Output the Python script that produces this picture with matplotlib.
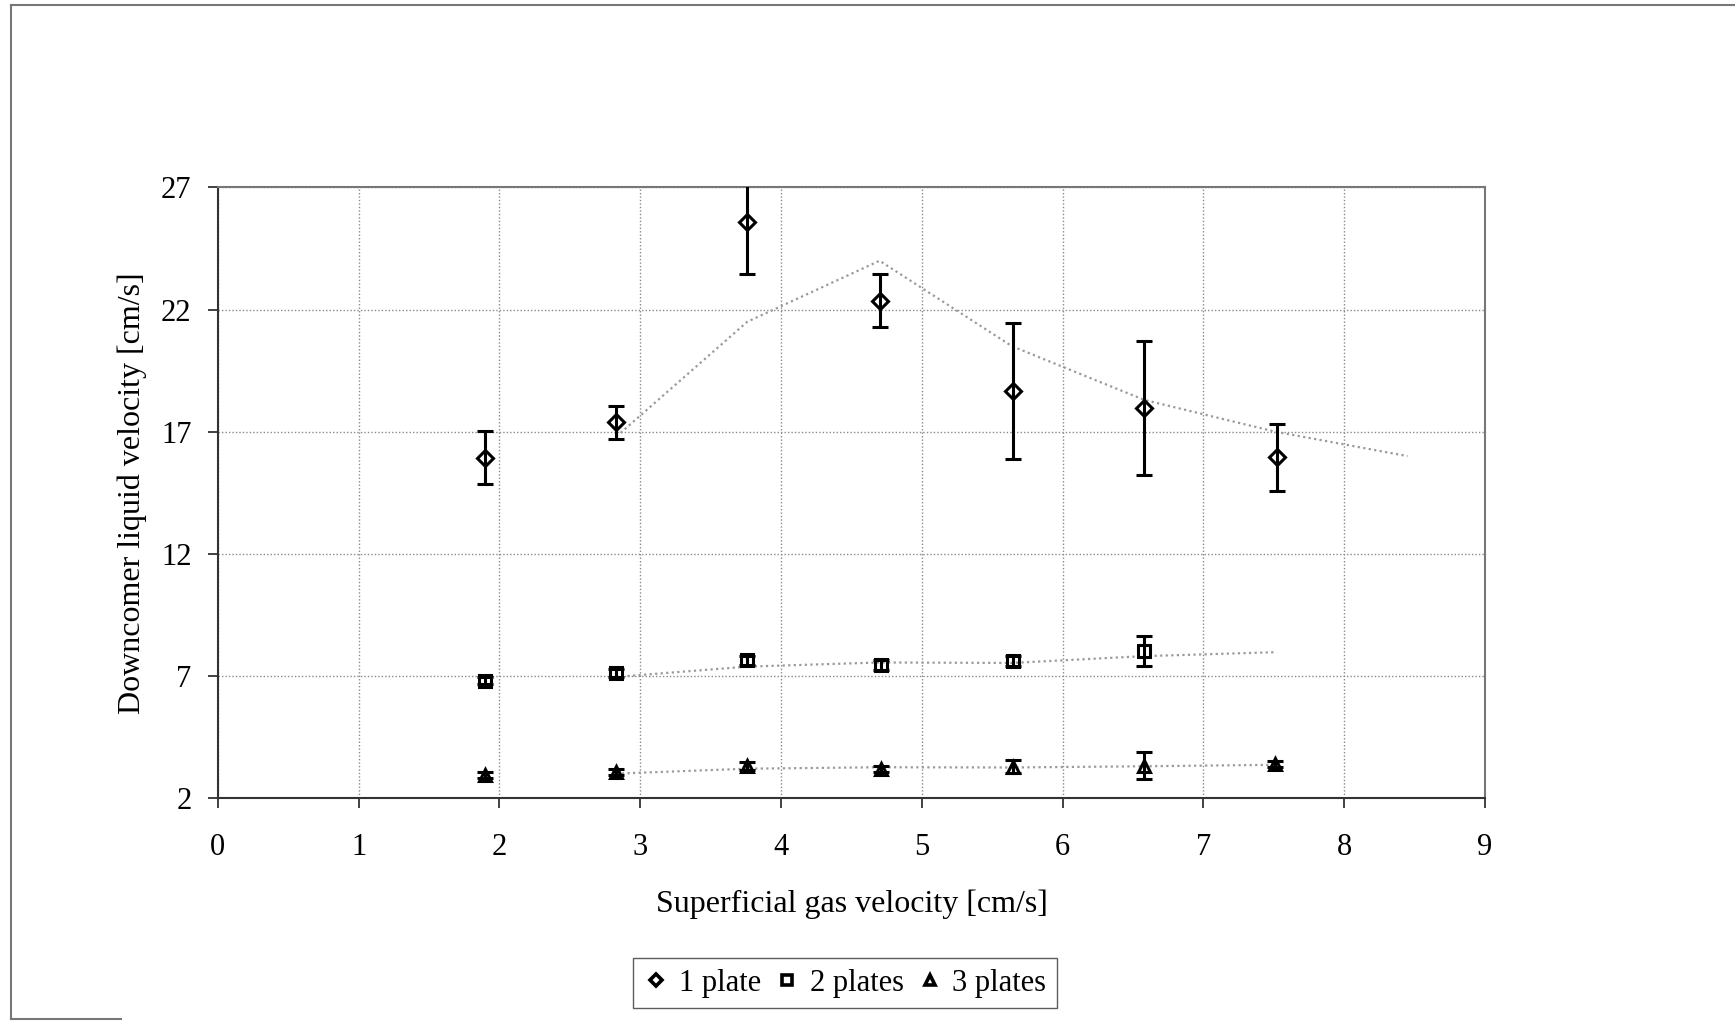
import matplotlib.pyplot as plt
from matplotlib.lines import Line2D

plt.rcParams['font.family'] = ['Liberation Serif', 'DejaVu Serif']

# measured points
X1 = [1.90, 2.83, 3.76, 4.70, 5.65, 6.58, 7.52]
Y1 = [15.94, 17.38, 25.58, 22.37, 18.65, 17.97, 15.96]
E1 = [1.08, 0.69, 2.13, 1.07, 2.78, 2.73, 1.37]

X2 = [1.90, 2.83, 3.76, 4.71, 5.65, 6.58]
Y2 = [6.80, 7.12, 7.64, 7.46, 7.61, 8.01]
E2 = [0.15, 0.15, 0.18, 0.2, 0.22, 0.62]

X3 = [1.90, 2.83, 3.76, 4.71, 5.65, 6.58, 7.51]
Y3 = [2.93, 3.08, 3.31, 3.20, 3.28, 3.33, 3.38]
E3 = [0.12, 0.12, 0.15, 0.12, 0.27, 0.55, 0.12]

# trend lines (gray dotted)
TX1 = [2.83, 3.76, 4.70, 5.64, 6.58, 7.51, 8.45]
TY1 = [16.8, 21.5, 24.0, 20.5, 18.3, 17.0, 16.0]
TX2 = [2.83, 3.76, 4.70, 5.64, 6.58, 7.51]
TY2 = [6.96, 7.38, 7.55, 7.53, 7.81, 7.97]
TX3 = [2.83, 3.76, 4.70, 5.64, 6.58, 7.51]
TY3 = [3.0, 3.2, 3.26, 3.25, 3.3, 3.36]

XTICKS = list(range(0, 10))
YTICKS = [2, 7, 12, 17, 22, 27]

fig = plt.figure(figsize=(17.35, 10.21), dpi=100)
ax = fig.add_axes([0.1256, 0.2184, 0.7303, 0.598])

for tx, ty in [(TX1, TY1), (TX2, TY2), (TX3, TY3)]:
    ax.plot(tx, ty, color='#9a9a9a', ls=(0, (1, 1.5)), lw=1.6, zorder=2)

kw = dict(ls='none', color='black', mfc='none', mec='black', mew=2.2,
          ecolor='black', elinewidth=2.2, capsize=6, capthick=2.2, zorder=3)
ax.errorbar(X1, Y1, yerr=E1, marker='D', ms=8, label='1 plate', **kw)
ax.errorbar(X2, Y2, yerr=E2, marker='s', ms=9, label='2 plates', **kw)
ax.errorbar(X3, Y3, yerr=E3, marker='^', ms=9, label='3 plates', **kw)

ax.set_xlim(0, 9)
ax.set_ylim(2, 27)
ax.set_xticks(XTICKS)
ax.set_yticks(YTICKS)
ax.grid(True, color='#8a8a8a', ls=(0, (1, 1.5)), lw=1.0)
ax.set_axisbelow(True)
for s in ['top', 'right']:
    ax.spines[s].set_color('#777777')
    ax.spines[s].set_linewidth(1.5)
for s in ['left', 'bottom']:
    ax.spines[s].set_color('#333333')
    ax.spines[s].set_linewidth(1.5)
ax.tick_params(labelsize=22, length=7, width=1.3, color='#333333')
ax.tick_params(axis='x', pad=18)
ax.tick_params(axis='y', pad=12)

ax.set_xlabel('Superficial gas velocity [cm/s]', fontsize=23, labelpad=20)
ax.set_ylabel('Downcomer liquid velocity [cm/s]', fontsize=23, labelpad=10)

handles = [Line2D([], [], ls='none', marker=m, ms=s, mfc='none', mec='black', mew=2.6)
           for m, s in [('D', 6.5), ('s', 7.5), ('^', 7.5)]]
fig.legend(handles, ['1 plate', '2 plates', '3 plates'], loc='center',
           bbox_to_anchor=(0.487, 0.0372), ncol=3, fontsize=22,
           frameon=True, fancybox=False, edgecolor='#333333',
           handlelength=0.8, handletextpad=0.35, columnspacing=0.45,
           borderpad=0.35)

# outer frame of the original page
fig.add_artist(Line2D([0.0063, 1.0], [0.995, 0.995], color='#777777', lw=1.5))
fig.add_artist(Line2D([0.0063, 0.0063], [0.002, 0.995], color='#777777', lw=1.5))
fig.add_artist(Line2D([0.0063, 0.07], [0.002, 0.002], color='#777777', lw=1.5))

fig.savefig('out.png', dpi=100)
